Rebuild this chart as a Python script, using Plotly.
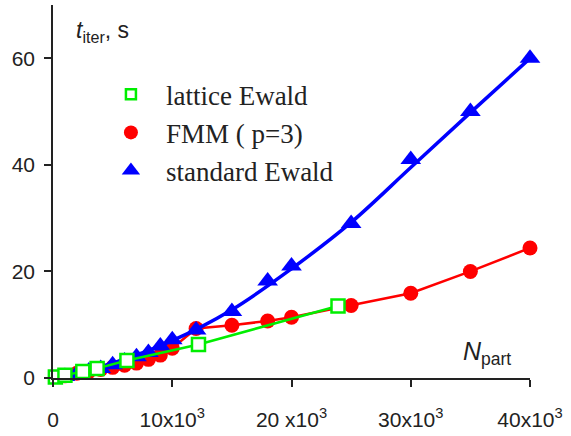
import plotly.graph_objects as go

# ---- data ----
std_N = [1000, 2000, 3000, 4000, 5000, 6000, 7000, 8000, 9000, 10000,
         12000, 15000, 18000, 20000, 25000, 30000, 35000, 40000]
std_t = [0.3, 0.8, 1.3, 1.8, 2.5, 3.2, 4.0, 4.8, 6.0, 7.2,
         9.0, 12.5, 18.2, 21.0, 29.0, 41.0, 50.0, 60.0]

fit_N = [0, 5000, 10000, 15000, 20000, 25000, 30000, 35000, 40000]
fit_t = [0, 2.8, 7.0, 12.8, 20.5, 29.2, 39.5, 49.8, 60.0]

fmm_N = [1000, 2000, 3000, 4000, 5000, 6000, 7000, 8000, 9000, 10000,
         12000, 15000, 18000, 20000, 25000, 30000, 35000, 40000]
fmm_t = [0.4, 0.9, 1.2, 1.6, 2.0, 2.4, 2.8, 3.5, 4.3, 5.6,
         9.3, 9.9, 10.7, 11.4, 13.6, 15.9, 20.0, 24.4]

lat_N = [200, 1000, 2500, 3700, 6200, 12200, 23900]
lat_t = [0.2, 0.5, 1.2, 1.8, 3.3, 6.3, 13.5]

x_ticks = [0, 10000, 20000, 30000, 40000]
x_ticktext = ["0", "10x10<sup>3</sup>", "20 x10<sup>3</sup>",
              "30x10<sup>3</sup>", "40x10<sup>3</sup>"]
y_ticks = [0, 20, 40, 60]

BLUE = "#0000FF"
RED = "#FF0000"
GREEN = "#00EE00"

fig = go.Figure()

# FMM
fig.add_trace(go.Scatter(x=fmm_N, y=fmm_t, mode="lines+markers",
                         line=dict(color=RED, width=2.5),
                         marker=dict(symbol="circle", size=15, color=RED),
                         showlegend=False, cliponaxis=False))
# standard Ewald fit curve
fig.add_trace(go.Scatter(x=fit_N, y=fit_t, mode="lines",
                         line=dict(color=BLUE, width=3.5, shape="spline"),
                         showlegend=False, cliponaxis=False))
# standard Ewald points
fig.add_trace(go.Scatter(x=std_N, y=std_t, mode="markers",
                         marker=dict(symbol="triangle-up", size=18, color=BLUE),
                         showlegend=False, cliponaxis=False))
# lattice Ewald
fig.add_trace(go.Scatter(x=lat_N, y=lat_t, mode="lines+markers",
                         line=dict(color=GREEN, width=2.5),
                         marker=dict(symbol="square", size=13, color="white",
                                     line=dict(color=GREEN, width=2.5)),
                         showlegend=False, cliponaxis=False))

# legend entries (marker only)
fig.add_trace(go.Scatter(x=[None], y=[None], mode="markers", name="lattice Ewald",
                         marker=dict(symbol="square", size=10, color="white",
                                     line=dict(color=GREEN, width=2.5))))
fig.add_trace(go.Scatter(x=[None], y=[None], mode="markers", name="FMM ( p=3)",
                         marker=dict(symbol="circle", size=14, color=RED)))
fig.add_trace(go.Scatter(x=[None], y=[None], mode="markers", name="standard Ewald",
                         marker=dict(symbol="triangle-up", size=16, color=BLUE)))

axis_font = dict(family="Liberation Sans, Arial, sans-serif", size=21, color="#222")

fig.update_layout(
    width=571, height=436,
    margin=dict(l=53, r=41, t=5, b=58),
    paper_bgcolor="white", plot_bgcolor="white",
    showlegend=True,
    legend=dict(x=0.09, y=0.825, xanchor="left", yanchor="top",
                bgcolor="rgba(0,0,0,0)", itemwidth=60,
                font=dict(family="Liberation Serif, Times New Roman, serif",
                          size=27, color="#222"),
                traceorder="normal"),
    xaxis=dict(range=[0, 40000], tickvals=x_ticks, ticktext=x_ticktext,
               showgrid=False, zeroline=False, showline=True,
               linecolor="#222", linewidth=1.5, ticks="outside", ticklen=7,
               tickwidth=1.5, tickcolor="#222", tickfont=axis_font,
               ticklabelstandoff=15),
    yaxis=dict(range=[0, 70], tickvals=y_ticks,
               showgrid=False, zeroline=False, showline=True,
               linecolor="#222", linewidth=1.5, ticks="outside", ticklen=7,
               tickwidth=1.5, tickcolor="#222", tickfont=axis_font,
               ticklabelstandoff=5),
    annotations=[
        dict(text="<i>t</i><sub>iter</sub>, s", xref="paper", yref="paper",
             x=(74 - 53) / 477, y=(378 - 31) / 373, xanchor="left", yanchor="middle",
             showarrow=False, font=dict(family="Liberation Sans, Arial, sans-serif",
                                        size=23, color="#222")),
        dict(text="<i>N</i><sub>part</sub>", xref="paper", yref="paper",
             x=(461 - 53) / 477, y=(378 - 353) / 373, xanchor="left", yanchor="middle",
             showarrow=False, font=dict(family="Liberation Sans, Arial, sans-serif",
                                        size=25, color="#222")),
    ],
)

fig.write_html("out.html")
